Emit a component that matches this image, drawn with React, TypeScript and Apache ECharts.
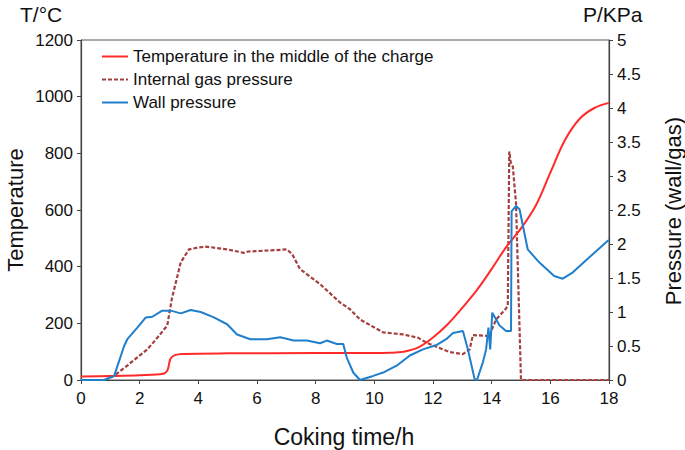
import React, { useEffect, useRef } from "react";
import * as echarts from "echarts";

const xTicks = [0, 2, 4, 6, 8, 10, 12, 14, 16, 18];

const tempTime = [0, 1, 2, 2.8, 2.95, 3.05, 3.2, 3.5, 5, 8, 10, 10.5, 11, 11.5, 12, 12.5, 13, 13.5, 14, 14.5, 15, 15.5, 16, 16.5, 17, 17.5, 18];
const tempVal = [12, 14, 17, 22, 35, 75, 88, 92, 94, 95, 95, 96, 100, 115, 150, 197, 255, 318, 392, 470, 535, 615, 732, 847, 922, 960, 978];

const gasTime = [0, 0.8, 1.12, 1.6, 2.26, 2.6, 2.94, 3.1, 3.4, 3.68, 4.0, 4.3, 5.0, 5.55, 5.7, 6.2, 7.02, 7.2, 7.47, 8.15, 8.83, 9.17, 9.51, 10.3, 10.98, 11.5, 11.77, 12.57, 13.02, 13.25, 13.36, 13.81, 13.9, 14.15, 14.49, 14.55, 14.6, 14.65, 14.72, 14.83, 15.0, 18];
const gasVal = [0, 0, 0.06, 0.22, 0.45, 0.62, 0.8, 1.2, 1.73, 1.92, 1.95, 1.96, 1.92, 1.87, 1.89, 1.9, 1.92, 1.85, 1.63, 1.41, 1.14, 1.04, 0.89, 0.7, 0.67, 0.62, 0.55, 0.41, 0.38, 0.45, 0.66, 0.65, 0.63, 0.89, 1.05, 1.1, 3.36, 3.2, 3.14, 2.6, 0, 0];

const wallTime = [0, 0.8, 1.13, 1.47, 1.58, 1.92, 2.21, 2.43, 2.77, 3.06, 3.4, 3.74, 4.08, 4.53, 4.98, 5.32, 5.77, 6.34, 6.79, 7.25, 7.7, 8.15, 8.38, 8.72, 8.94, 9.06, 9.28, 9.51, 9.96, 10.3, 10.76, 11.21, 11.66, 12.1, 12.45, 12.68, 13.02, 13.19, 13.42, 13.5, 13.7, 13.81, 13.89, 13.95, 14.02, 14.27, 14.49, 14.66, 14.68, 14.83, 14.95, 15.23, 15.62, 16.13, 16.42, 16.76, 17.32, 17.94, 18];
const wallVal = [0, 0, 0.06, 0.5, 0.6, 0.77, 0.92, 0.93, 1.02, 1.02, 0.98, 1.03, 1.0, 0.92, 0.82, 0.67, 0.6, 0.6, 0.63, 0.58, 0.58, 0.54, 0.58, 0.53, 0.53, 0.33, 0.11, 0, 0.06, 0.11, 0.21, 0.36, 0.45, 0.51, 0.6, 0.69, 0.72, 0.45, 0.01, 0, 0.26, 0.45, 0.77, 0.45, 0.99, 0.8, 0.72, 0.72, 2.48, 2.56, 2.51, 1.92, 1.73, 1.53, 1.49, 1.58, 1.8, 2.04, 2.06];

const seriesNames = ["Temperature in the middle of the charge", "Internal gas pressure", "Wall pressure"];

const FONT = "'Liberation Sans', Arial, Helvetica, sans-serif";

function pairs(xs: number[], ys: number[]) {
  return xs.map((x, i) => [x, ys[i]]);
}

export default function App() {
  const ref = useRef<HTMLDivElement>(null);
  useEffect(() => {
    if (!ref.current) return;
    const chart = echarts.init(ref.current, undefined, { renderer: "svg" });
    const axisLine = { show: true, lineStyle: { color: "#444", width: 1.2 } };
    const axisLabel = { color: "#111", fontSize: 17, fontFamily: FONT };
    chart.setOption({
      animation: false,
      backgroundColor: "#fff",
      grid: { left: 81, right: 76, top: 40, bottom: 70, show: true, borderColor: "#555", borderWidth: 1, backgroundColor: "transparent" },
      legend: {
        show: true,
        orient: "vertical",
        left: 96,
        top: 43,
        itemWidth: 26,
        itemHeight: 12,
        itemGap: 6,
        data: seriesNames,
        itemStyle: { opacity: 0 },
        textStyle: { fontSize: 17, color: "#111", fontFamily: FONT },
      },
      xAxis: {
        type: "value",
        min: 0,
        max: 18,
        interval: 2,
        axisLine: { ...axisLine, onZero: false },
        axisTick: { show: true, length: 4, inside: false, lineStyle: { color: "#444" } },
        axisLabel: { ...axisLabel, margin: 10, formatter: (v: number) => (xTicks.includes(v) ? String(v) : "") },
        splitLine: { show: false },
      },
      yAxis: [
        {
          type: "value",
          min: 0,
          max: 1200,
          interval: 200,
          axisLine,
          axisTick: { show: true, length: 4, lineStyle: { color: "#444" } },
          axisLabel: { ...axisLabel, margin: 8, formatter: (v: number) => String(v) },
          splitLine: { show: false },
        },
        {
          type: "value",
          min: 0,
          max: 5,
          interval: 0.5,
          position: "right",
          axisLine,
          axisTick: { show: true, length: 4, lineStyle: { color: "#444" } },
          axisLabel: { ...axisLabel, margin: 8, formatter: (v: number) => String(v) },
          splitLine: { show: false },
        },
      ],
      series: [
        {
          name: seriesNames[0],
          type: "line",
          yAxisIndex: 0,
          data: pairs(tempTime, tempVal),
          smooth: 0.35,
          showSymbol: false,
          symbol: "none",
          lineStyle: { color: "#ff2a2a", width: 2 },
          itemStyle: { color: "#ff2a2a" },
          z: 3,
        },
        {
          name: seriesNames[1],
          type: "line",
          yAxisIndex: 1,
          data: pairs(gasTime, gasVal),
          showSymbol: false,
          symbol: "none",
          lineStyle: { color: "#a34040", width: 2.2, type: [4, 2] },
          itemStyle: { color: "#a34040" },
          z: 2,
        },
        {
          name: seriesNames[2],
          type: "line",
          yAxisIndex: 1,
          data: pairs(wallTime, wallVal),
          showSymbol: false,
          symbol: "none",
          lineStyle: { color: "#1f7fcc", width: 2 },
          itemStyle: { color: "#1f7fcc" },
          z: 4,
        },
      ],
      graphic: [
        { type: "text", left: 20, top: 4, style: { text: "T/°C", fontSize: 21, fill: "#111", fontFamily: FONT } },
        { type: "text", left: 583, top: 4, style: { text: "P/KPa", fontSize: 21, fill: "#111", fontFamily: FONT } },
        {
          type: "text",
          x: 15,
          y: 210,
          rotation: Math.PI / 2,
          style: { text: "Temperature", fontSize: 22, fill: "#111", fontFamily: FONT, align: "center", verticalAlign: "middle" },
        },
        {
          type: "text",
          x: 673,
          y: 211,
          rotation: Math.PI / 2,
          style: { text: "Pressure (wall/gas)", fontSize: 22, fill: "#111", fontFamily: FONT, align: "center", verticalAlign: "middle" },
        },
        {
          type: "text",
          x: 344,
          y: 437,
          style: { text: "Coking time/h", fontSize: 23, fill: "#111", fontFamily: FONT, align: "center", verticalAlign: "middle" },
        },
      ],
    });
    return () => chart.dispose();
  }, []);
  return <div ref={ref} style={{ width: 685, height: 450, position: "absolute", left: 0, top: 0 }} />;
}
